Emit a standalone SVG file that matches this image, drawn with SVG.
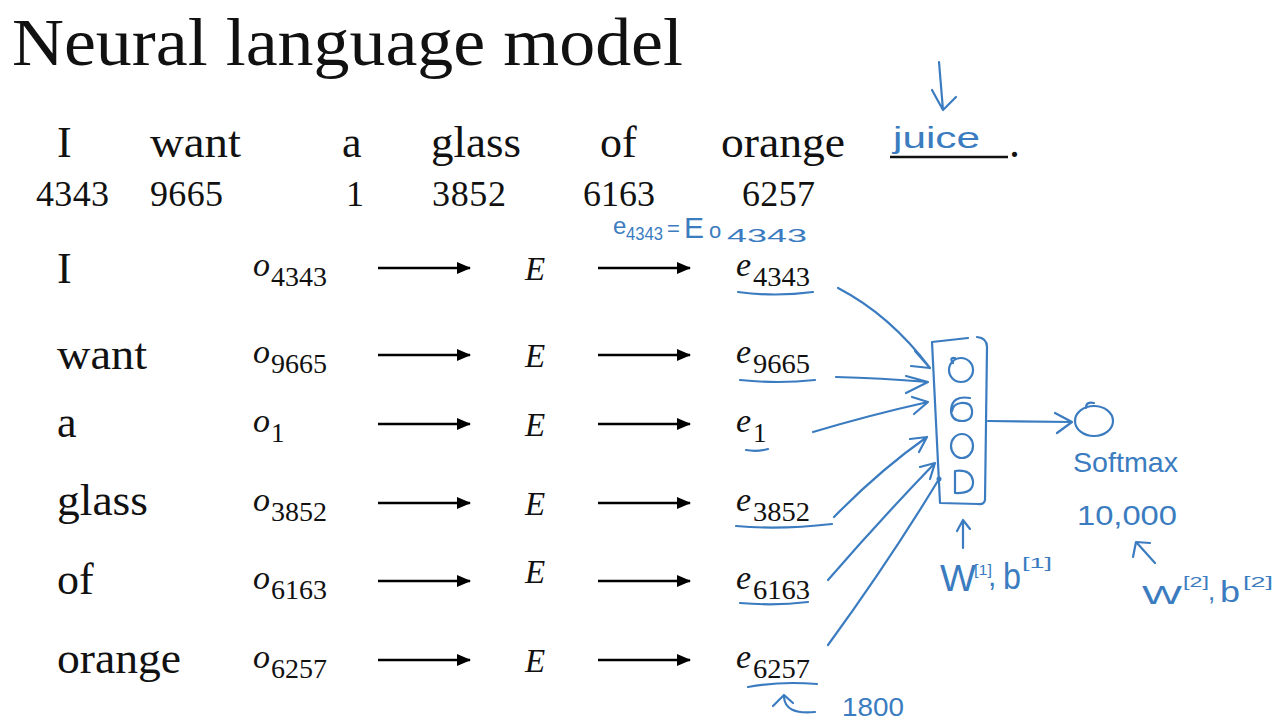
<svg xmlns="http://www.w3.org/2000/svg" width="1280" height="723" viewBox="0 0 1280 723">
<defs>
<style>
.t{font-family:"Liberation Serif","Times New Roman",serif;fill:#111}
.w{font-size:44px}
.n{font-size:36px}
.v{font-style:italic;font-size:34px}
.E{font-style:italic;font-size:33px}
.s{font-size:27px}
.blk{stroke:#000;stroke-width:2.6;fill:none}
.ink{fill:none;stroke:#3b7cc0;stroke-width:2.2;stroke-linecap:round;stroke-linejoin:round}
.hw{font-family:"Liberation Sans","DejaVu Sans",sans-serif;fill:#3b7cc0}
</style>
<marker id="ah" markerUnits="userSpaceOnUse" markerWidth="14" markerHeight="12" refX="13" refY="6" orient="auto">
<path d="M0,0 L14,6 L0,12 z" fill="#000"/>
</marker>
</defs>
<rect width="1280" height="723" fill="#fff"/>

<g id="title">
<text class="t" x="12" y="65" font-size="68" textLength="671" lengthAdjust="spacingAndGlyphs">Neural language model</text>
</g>

<g id="sentence">
<text class="t w" x="57" y="157">I</text>
<text class="t w" x="150" y="157" textLength="91" lengthAdjust="spacingAndGlyphs">want</text>
<text class="t w" x="342" y="157">a</text>
<text class="t w" x="431" y="157" textLength="90" lengthAdjust="spacingAndGlyphs">glass</text>
<text class="t w" x="600" y="157">of</text>
<text class="t w" x="721" y="157" textLength="124" lengthAdjust="spacingAndGlyphs">orange</text>
<line x1="890" y1="157" x2="1008" y2="157" stroke="#111" stroke-width="2.4"/>
<text class="t w" x="1009" y="157">.</text>
</g>

<g id="indices">
<text class="t n" x="36" y="206" textLength="73">4343</text>
<text class="t n" x="150" y="206" textLength="73">9665</text>
<text class="t n" x="346" y="206">1</text>
<text class="t n" x="432" y="206" textLength="74">3852</text>
<text class="t n" x="583" y="206" textLength="72">6163</text>
<text class="t n" x="742" y="206" textLength="73">6257</text>
</g>

<g id="juice">
<text class="hw" x="893" y="148" font-size="30" textLength="87" lengthAdjust="spacingAndGlyphs">juice</text>
<path class="ink" d="M939 62 Q941 85 943 110 M932 90 L943 110 L956 97"/>
</g>

<g id="embedding-eq">
<text class="hw" x="613" y="234" font-size="24">e</text>
<text class="hw" x="626" y="240" font-size="18" textLength="37" lengthAdjust="spacingAndGlyphs">4343</text>
<text class="hw" x="667" y="236" font-size="22">=</text>
<text class="hw" x="684" y="238" font-size="30">E</text>
<text class="hw" x="709" y="238" font-size="22">o</text>
<text class="hw" x="727" y="242" font-size="19" textLength="80" lengthAdjust="spacingAndGlyphs">4343</text>
</g>

<g id="row-I">
<text class="t w" x="57" y="283">I</text>
<text class="t v" x="253" y="276">o</text><text class="t s" x="271" y="286" textLength="56" lengthAdjust="spacingAndGlyphs">4343</text>
<text class="t E" x="525" y="280">E</text>
<text class="t v" x="736" y="276">e</text><text class="t s" x="753" y="286" textLength="57" lengthAdjust="spacingAndGlyphs">4343</text>
<path class="ink" d="M738 292 Q775 297 813 292"/>
</g>

<g id="row-want">
<text class="t w" x="57" y="369" textLength="90" lengthAdjust="spacingAndGlyphs">want</text>
<text class="t v" x="253" y="363">o</text><text class="t s" x="271" y="373" textLength="56" lengthAdjust="spacingAndGlyphs">9665</text>
<text class="t E" x="525" y="367">E</text>
<text class="t v" x="736" y="363">e</text><text class="t s" x="753" y="373" textLength="57" lengthAdjust="spacingAndGlyphs">9665</text>
<path class="ink" d="M740 380 Q778 384 815 380"/>
</g>

<g id="row-a">
<text class="t w" x="57" y="437">a</text>
<text class="t v" x="253" y="432">o</text><text class="t s" x="271" y="442">1</text>
<text class="t E" x="525" y="436">E</text>
<text class="t v" x="736" y="432">e</text><text class="t s" x="753" y="442">1</text>
<path class="ink" d="M746 450 Q757 452 768 449"/>
</g>

<g id="row-glass">
<text class="t w" x="57" y="515" textLength="91" lengthAdjust="spacingAndGlyphs">glass</text>
<text class="t v" x="253" y="511">o</text><text class="t s" x="271" y="521" textLength="56" lengthAdjust="spacingAndGlyphs">3852</text>
<text class="t E" x="525" y="515">E</text>
<text class="t v" x="736" y="511">e</text><text class="t s" x="753" y="521" textLength="57" lengthAdjust="spacingAndGlyphs">3852</text>
<path class="ink" d="M736 526 Q780 530 832 524"/>
</g>

<g id="row-of">
<text class="t w" x="57" y="594">of</text>
<text class="t v" x="253" y="589">o</text><text class="t s" x="271" y="599" textLength="56" lengthAdjust="spacingAndGlyphs">6163</text>
<text class="t E" x="525" y="583">E</text>
<text class="t v" x="736" y="589">e</text><text class="t s" x="753" y="599" textLength="57" lengthAdjust="spacingAndGlyphs">6163</text>
<path class="ink" d="M740 603 Q775 606 808 602"/>
</g>

<g id="row-orange">
<text class="t w" x="57" y="673" textLength="124" lengthAdjust="spacingAndGlyphs">orange</text>
<text class="t v" x="253" y="668">o</text><text class="t s" x="271" y="678" textLength="56" lengthAdjust="spacingAndGlyphs">6257</text>
<text class="t E" x="525" y="672">E</text>
<text class="t v" x="736" y="668">e</text><text class="t s" x="753" y="678" textLength="57" lengthAdjust="spacingAndGlyphs">6257</text>
<path class="ink" d="M748 687 Q780 681 817 684"/>
<path class="ink" d="M815 712 Q785 715 784 697 M773 706 L784 695 L793 703"/>
<text class="hw" x="842" y="716" font-size="26" textLength="62" lengthAdjust="spacingAndGlyphs">1800</text>
</g>

<g id="hidden-layer">
<path class="ink" d="M932 342 L968 338 M977 337 Q987 338 987 347 L985 500 Q984 505 978 504 L940 503 L932 342"/>
<ellipse class="ink" cx="961" cy="370" rx="12" ry="12"/>
<path class="ink" d="M953 363 Q949 357 955 358"/>
<path class="ink" d="M970 398 Q952 395 951 410 Q951 421 962 421 Q973 421 972 410 Q971 402 961 403 Q953 404 952 411"/>
<ellipse class="ink" cx="962" cy="446" rx="11" ry="12"/>
<path class="ink" d="M955 471 L955 493 Q974 494 973 481 Q971 469 955 471"/>
<path class="ink" d="M963 548 L963 522 M957 531 L963 520 L970 529"/>
<text class="hw" x="940" y="591" font-size="36" textLength="36" lengthAdjust="spacingAndGlyphs">W</text>
<text class="hw" x="974" y="575" font-size="14" textLength="18" lengthAdjust="spacingAndGlyphs">[1]</text>
<text class="hw" x="988" y="586" font-size="30">,</text>
<text class="hw" x="1003" y="589" font-size="36" textLength="18" lengthAdjust="spacingAndGlyphs">b</text>
<text class="hw" x="1022" y="568" font-size="14" textLength="30" lengthAdjust="spacingAndGlyphs">[1]</text>
</g>

<g id="softmax">
<ellipse class="ink" cx="1094" cy="421" rx="19" ry="15"/>
<path class="ink" d="M1086 408 Q1086 401 1094 403"/>
<text class="hw" x="1073" y="472" font-size="28" textLength="105" lengthAdjust="spacingAndGlyphs">Softmax</text>
<text class="hw" x="1077" y="525" font-size="27" textLength="100" lengthAdjust="spacingAndGlyphs">10,000</text>
<path class="ink" d="M1155 563 L1137 543 M1133 557 L1136 542 L1150 543"/>
<text class="hw" x="1142" y="604" font-size="26" textLength="40" lengthAdjust="spacingAndGlyphs">W</text>
<text class="hw" x="1183" y="587" font-size="14" textLength="26" lengthAdjust="spacingAndGlyphs">[2]</text>
<text class="hw" x="1208" y="600" font-size="26">,</text>
<text class="hw" x="1220" y="602" font-size="30" textLength="20" lengthAdjust="spacingAndGlyphs">b</text>
<text class="hw" x="1243" y="587" font-size="14" textLength="30" lengthAdjust="spacingAndGlyphs">[2]</text>
</g>

<g id="connectors">
<line class="blk" x1="378" y1="268" x2="470" y2="268" marker-end="url(#ah)"/>
<line class="blk" x1="598" y1="268" x2="690" y2="268" marker-end="url(#ah)"/>
<line class="blk" x1="378" y1="355" x2="470" y2="355" marker-end="url(#ah)"/>
<line class="blk" x1="598" y1="355" x2="690" y2="355" marker-end="url(#ah)"/>
<line class="blk" x1="378" y1="424" x2="470" y2="424" marker-end="url(#ah)"/>
<line class="blk" x1="598" y1="424" x2="690" y2="424" marker-end="url(#ah)"/>
<line class="blk" x1="378" y1="503" x2="470" y2="503" marker-end="url(#ah)"/>
<line class="blk" x1="598" y1="503" x2="690" y2="503" marker-end="url(#ah)"/>
<line class="blk" x1="378" y1="581" x2="470" y2="581" marker-end="url(#ah)"/>
<line class="blk" x1="598" y1="581" x2="690" y2="581" marker-end="url(#ah)"/>
<line class="blk" x1="378" y1="660" x2="470" y2="660" marker-end="url(#ah)"/>
<line class="blk" x1="598" y1="660" x2="690" y2="660" marker-end="url(#ah)"/>

<path class="ink" d="M838 288 Q890 315 930 368 M915 351 L930 368 L911 366"/>
<path class="ink" d="M836 377 Q880 378 928 382 M906 376 L928 382 L906 393"/>
<path class="ink" d="M813 432 Q870 415 928 402 M912 397 L928 402 L914 414"/>
<path class="ink" d="M834 517 Q880 470 927 437 M910 439 L927 437 L919 452"/>
<path class="ink" d="M828 580 Q880 520 935 463 M920 467 L935 463 L930 479"/>
<path class="ink" d="M828 645 Q890 560 939 479"/>
<circle cx="939" cy="479" r="2.5" fill="#3b7cc0"/>
<path class="ink" d="M988 421 L1072 422 M1055 413 L1072 422 L1057 433"/>
</g>
</svg>
